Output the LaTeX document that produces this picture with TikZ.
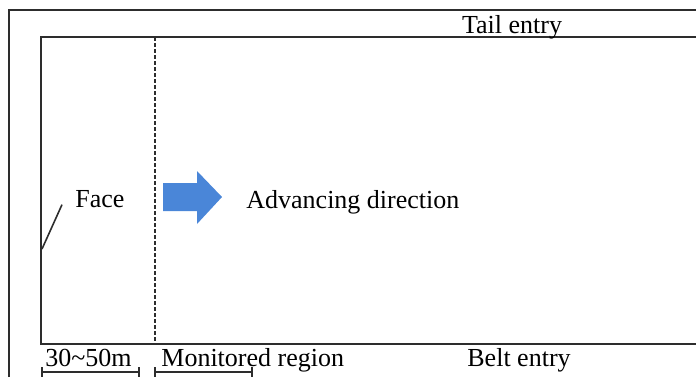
\documentclass[tikz,border=0pt]{standalone}
\usepackage{fontspec}
\setmainfont{Liberation Serif}
\definecolor{arrowblue}{RGB}{74,134,216}
\definecolor{wallgray}{RGB}{45,45,45}
\tikzset{
    wall/.style={wallgray, line width=1pt},
    label/.style={inner sep=0pt, font=\fontsize{13}{15}\selectfont},
}
\begin{document}
\begin{tikzpicture}[x=0.5pt, y=-0.5pt]
        \useasboundingbox (0,0) rectangle (696,377);
        % entries and face
        \draw[wall] (9,377) -- (9,10) -- (696,10);
        \draw[wall] (696,37) -- (41,37) -- (41,344) -- (696,344);
        \draw[wall, dash pattern=on 2pt off 1pt] (155,37) -- (155,344);
        \node[label, anchor=base] (tail) at (512,33) {Tail entry};
        \node[label, anchor=base west] (belt) at (467,366) {Belt entry};
        \node[label, anchor=base west] (face) at (75,207) {Face};
        \coordinate (facept) at (42,249);
        \draw[wallgray, line width=0.8pt] (facept) -- ([xshift=-6.5pt, yshift=-3pt]face.west);
        % advancing arrow
        \fill[arrowblue] (163,183) -- (197,183) -- (197,171) -- (222,197)
            -- (197,224) -- (197,211) -- (163,211) -- cycle;
        \node[label, anchor=base west] (adv) at (246,208) {Advancing direction};
        % spans below the belt entry
        \node[label, anchor=base west] (span) at (45,366) {30\textasciitilde50m};
        \node[label, anchor=base west] (mon) at (161,366) {Monitored region};
        \foreach \a/\b in {42/139, 155/252} {
            \draw[wall] (\a,367) -- (\a,377);
            \draw[wall] (\b,367) -- (\b,377);
            \draw[wall] (\a,372) -- (\b,372);
        }
    \end{tikzpicture}
\end{document}
